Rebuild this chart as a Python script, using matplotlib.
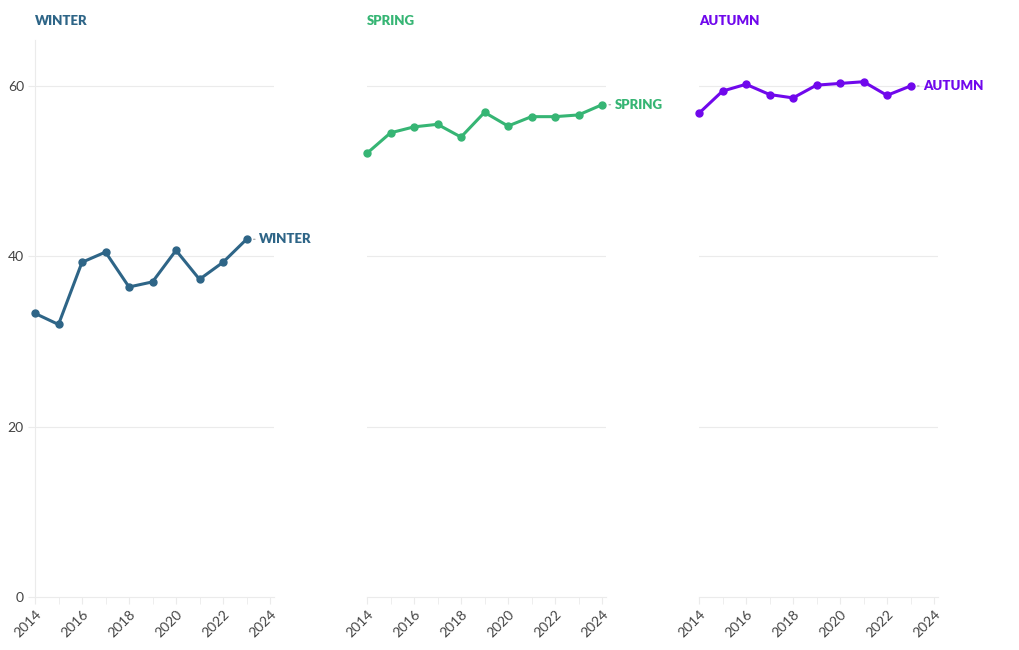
import matplotlib
matplotlib.use("Agg")
import matplotlib.pyplot as plt

plt.rcParams['font.family'] = ['Lato', 'DejaVu Sans']

years_winter = [2014, 2015, 2016, 2017, 2018, 2019, 2020, 2021, 2022, 2023]
winter = [33.3, 32.0, 39.3, 40.5, 36.4, 37.0, 40.7, 37.3, 39.3, 42.0]

years_spring = [2014, 2015, 2016, 2017, 2018, 2019, 2020, 2021, 2022, 2023, 2024]
spring = [52.1, 54.5, 55.2, 55.5, 54.0, 56.9, 55.3, 56.4, 56.4, 56.6, 57.8]

years_autumn = [2014, 2015, 2016, 2017, 2018, 2019, 2020, 2021, 2022, 2023]
autumn = [56.8, 59.4, 60.2, 59.0, 58.6, 60.1, 60.3, 60.5, 58.9, 60.0]

series = [
    ("WINTER", years_winter, winter, "#2e6587"),
    ("SPRING", years_spring, spring, "#36b574"),
    ("AUTUMN", years_autumn, autumn, "#7008ec"),
]

yticks = [0, 20, 40, 60]
xticks_major = [2014, 2016, 2018, 2020, 2022, 2024]
xticks_minor = list(range(2014, 2025))

W, H = 1020, 650
fig = plt.figure(figsize=(W / 100, H / 100), dpi=100)

lefts = [35, 367, 699]
ax_w = 239
top_px, bot_px = 40, 597
grid_c = "#ebebeb"
text_c = "#444444"

for i, ((name, xs, ys, col), lp) in enumerate(zip(series, lefts)):
    ax = fig.add_axes([lp / W, 1 - bot_px / H, ax_w / W, (bot_px - top_px) / H])
    ax.set_xlim(2014, 2024.17)
    ax.set_ylim(0, 65.4)
    for s in ["top", "right"]:
        ax.spines[s].set_visible(False)
    ax.spines["bottom"].set_color(grid_c)
    ax.spines["left"].set_color(grid_c)
    ax.spines["left"].set_visible(i == 0)
    ax.set_yticks(yticks)
    for yv in yticks[1:]:
        ax.axhline(yv, color=grid_c, lw=0.8, zorder=0)
    if i == 0:
        ax.tick_params(axis="y", length=5, color=grid_c, labelsize=10, labelcolor=text_c, pad=3)
    else:
        ax.tick_params(axis="y", length=0, labelleft=False)
    ax.set_xticks(xticks_minor, minor=True)
    ax.set_xticks(xticks_major)
    ax.set_xticklabels([str(v) for v in xticks_major], rotation=45, ha="right",
                       rotation_mode="anchor", fontsize=10, color=text_c)
    ax.tick_params(axis="x", which="both", length=5, color=grid_c, pad=3)
    ax.plot(xs, ys, color=col, lw=2.2, marker="o", ms=5, zorder=3, clip_on=False)
    # end label with small leader dash
    ax.annotate("", xy=(xs[-1] + 0.3, ys[-1]), xytext=(xs[-1] + 0.48, ys[-1]),
                arrowprops=dict(arrowstyle="-", color="#aaaaaa", lw=0.9),
                annotation_clip=False)
    ax.text(xs[-1] + 0.55, ys[-1], name, color=col, fontsize=9.5, fontweight="heavy",
            va="center", ha="left", clip_on=False)
    fig.text(lp / W, 1 - 21 / H, name, color=col, fontsize=9.5, fontweight="heavy",
             va="center", ha="left")

fig.savefig("out.png", dpi=100, facecolor="white")
